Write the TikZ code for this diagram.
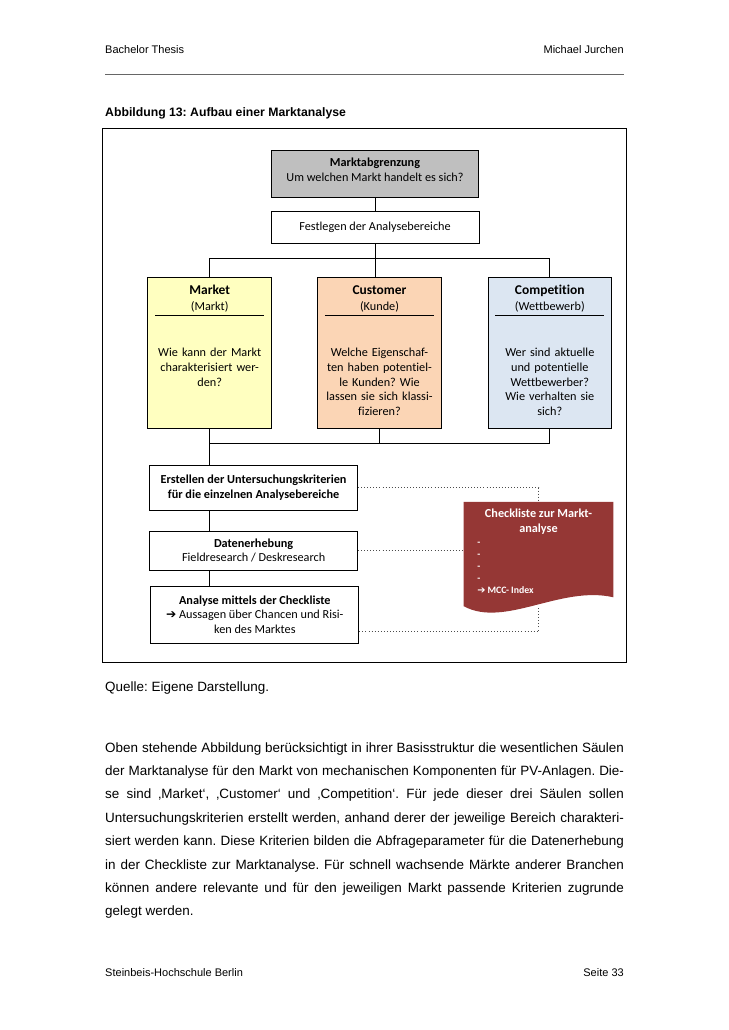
\documentclass[tikz,border=0pt]{standalone}
\usepackage{fontspec}
\setmainfont{Liberation Sans}
\newfontfamily\boxfont{Carlito}[Ligatures={NoCommon,NoContextual}]
\newfontfamily\symfont{DejaVu Sans}
\usetikzlibrary{calc}
\frenchspacing

\definecolor{headgray}{HTML}{BFBFBF}
\definecolor{marketyellow}{HTML}{FFFFC0}
\definecolor{customerpeach}{HTML}{FBD5B5}
\definecolor{competitionblue}{HTML}{DCE6F2}
\definecolor{checkred}{HTML}{953735}

\begin{document}
\begin{tikzpicture}[
    x = 0.8173pt,
    y = -0.8173pt,
    box/.style = {draw=black, line width=0.7pt, inner sep=0pt, align=center,
              font=\boxfont\fontsize{10}{12}\selectfont},
    pillar/.style = {box, minimum width=101pt, minimum height=123.4pt},
    pillarhead/.style = {inner xsep=0pt, inner ysep=2pt, text width=88.7pt, align=center,
              font=\boxfont\fontsize{10}{13}\selectfont},
    pillartext/.style = {inner sep=0pt, text width=96pt, align=center, anchor=north,
              font=\boxfont\fontsize{10}{12}\selectfont},
    link/.style = {black, line width=0.8pt},
    hint/.style = {black!70, dotted, line width=0.5pt},
    pagetext/.style = {inner sep=0pt, anchor=base west, font=\fontsize{11}{13}\selectfont},
    pagesmall/.style = {inner sep=0pt, font=\fontsize{9}{11}\selectfont},
    ]
\useasboundingbox (0,0) rectangle (728,1030);

% page head
\node[pagesmall, anchor=base west] (head_left) at (105,54) {Bachelor Thesis};
\node[pagesmall, anchor=base east] (head_right) at (624,54) {Michael Jurchen};
\draw[black!60, line width=0.6pt] (105,74) -- (624,74);
\node[pagetext, font=\bfseries\fontsize{10}{12}\selectfont] (caption) at (105,116) {Abbildung 13: Aufbau einer Marktanalyse};

% frame
\draw[line width=0.8pt] (102,128) rectangle (626,662);

% top boxes
\node[box, fill=headgray, minimum width=169.6pt, minimum height=38.4pt] (abgrenzung) at (375,173.5)
    {\textbf{Marktabgrenzung}\\Um welchen Markt handelt es sich?\\[-6pt]\mbox{}};
\node[box, minimum width=170pt, minimum height=26.2pt] (festlegen) at (375,227) {Festlegen der Analysebereiche};

% three pillars
\node[pillar, fill=marketyellow] (market) at (209.7,353) {};
\node[pillar, fill=customerpeach] (customer) at (379.5,353) {};
\node[pillar, fill=competitionblue] (competition) at (549.8,353) {};

\node[pillarhead] (market_head) at (209.7,299) {{\bfseries\fontsize{11}{13}\selectfont Market}\\(Markt)};
\node[pillarhead] (customer_head) at (379.5,299) {{\bfseries\fontsize{11}{13}\selectfont Customer}\\(Kunde)};
\node[pillarhead] (competition_head) at (549.8,299) {{\bfseries\fontsize{11}{13}\selectfont Competition}\\(Wettbewerb)};
\draw[line width=0.5pt] (market_head.south west) -- (market_head.south east);
\draw[line width=0.5pt] (customer_head.south west) -- (customer_head.south east);
\draw[line width=0.5pt] (competition_head.south west) -- (competition_head.south east);

\node[pillartext] (market_text) at (209.7,348) {Wie kann der Markt\\charakterisiert wer-\\den?};
\node[pillartext] (customer_text) at (379.5,348) {Welche Eigenschaf-\\ten haben potentiel-\\le Kunden? Wie\\lassen sie sich klassi-\\fizieren?};
\node[pillartext] (competition_text) at (549.8,348) {Wer sind aktuelle\\und potentielle\\Wettbewerber?\\Wie verhalten sie\\sich?};

% lower boxes
\node[box, minimum width=170pt, minimum height=36.8pt] (erstellen) at (253.6,487.5)
    {\textbf{Erstellen der Untersuchungskriterien}\\\textbf{für die einzelnen Analysebereiche}};
\node[box, minimum width=170pt, minimum height=31.9pt] (daten) at (253.6,550.5)
    {\textbf{Datenerhebung}\\Fieldresearch / Deskresearch};
\node[box, minimum width=170.2pt, minimum height=46.6pt] (analyse) at (254.8,614.5)
    {\textbf{Analyse mittels der Checkliste}\\{\symfont ➔} Aussagen über Chancen und Risi-\\ken des Marktes};

% checklist document
\node[inner sep=0pt, minimum width=121.8pt, minimum height=85pt] (check) at (538.5,554) {};
\fill[checkred] (check.north west) -- (check.north east) -- ($(check.south east)+(0,-9)$)
    .. controls +(-53,-12) and +(41,22) .. (check.south west) -- cycle;
\node[inner sep=0pt, align=center, text=white, font=\boxfont\bfseries\fontsize{10}{12.3}\selectfont]
    (check_title) at (538.5,522) {Checkliste zur Markt-\\analyse};
\node[inner sep=0pt, align=left, anchor=north west, text=white, font=\boxfont\bfseries\fontsize{8}{9.8}\selectfont]
    (check_list) at (477,542) {-\\-\\-\\-\\{\symfont ➔} MCC- Index};

% connectors
\coordinate (branch) at (0,258);
\coordinate (join) at (0,443);
\draw[link] (abgrenzung.south) -- (abgrenzung.south |- festlegen.north);
\draw[link] (festlegen.south) -- (festlegen.south |- customer.north);
\draw[link] (market.north) |- (competition.north |- branch) -- (competition.north);
\draw[link] (market.south) -- (market.south |- erstellen.north);
\draw[link] (customer.south) |- (market.south |- join);
\draw[link] (competition.south) |- (customer.south |- join);
\draw[link] (erstellen.south -| market.south) -- (daten.north -| market.south);
\draw[link] (daten.south -| market.south) -- (analyse.north -| market.south);

\draw[hint] (erstellen.east) -| (check.north);
\draw[hint] (daten.east) -- (daten.east -| check.west);
\draw[hint] ($(analyse.south east)+(0,-12)$) -| (check.south);

% page text
\node[pagetext] (source) at (105,691) {Quelle: Eigene Darstellung.};
\foreach \row [count=\i] in {
    {Oben stehende Abbildung berücksichtigt in ihrer Basisstruktur die wesentlichen Säulen},
    {der Marktanalyse für den Markt von mechanischen Komponenten für PV-Anlagen. Die-},
    {se sind ‚Market‘, ‚Customer‘ und ‚Competition‘. Für jede dieser drei Säulen sollen},
    {Untersuchungskriterien erstellt werden, anhand derer der jeweilige Bereich charakteri-},
    {siert werden kann. Diese Kriterien bilden die Abfrageparameter für die Datenerhebung},
    {in der Checkliste zur Marktanalyse. Für schnell wachsende Märkte anderer Branchen},
    {können andere relevante und für den jeweiligen Markt passende Kriterien zugrunde}}
  \node[pagetext] (body_\i) at (105,{752+23.4*(\i-1)}) {\makebox[424pt][s]{\row}};
\node[pagetext] (body_8) at (105,915.8) {gelegt werden.};

% page foot
\node[pagesmall, anchor=base west] (foot_left) at (105,976) {Steinbeis-Hochschule Berlin};
\node[pagesmall, anchor=base east] (foot_right) at (624,976) {Seite 33};

\end{tikzpicture}
\end{document}
